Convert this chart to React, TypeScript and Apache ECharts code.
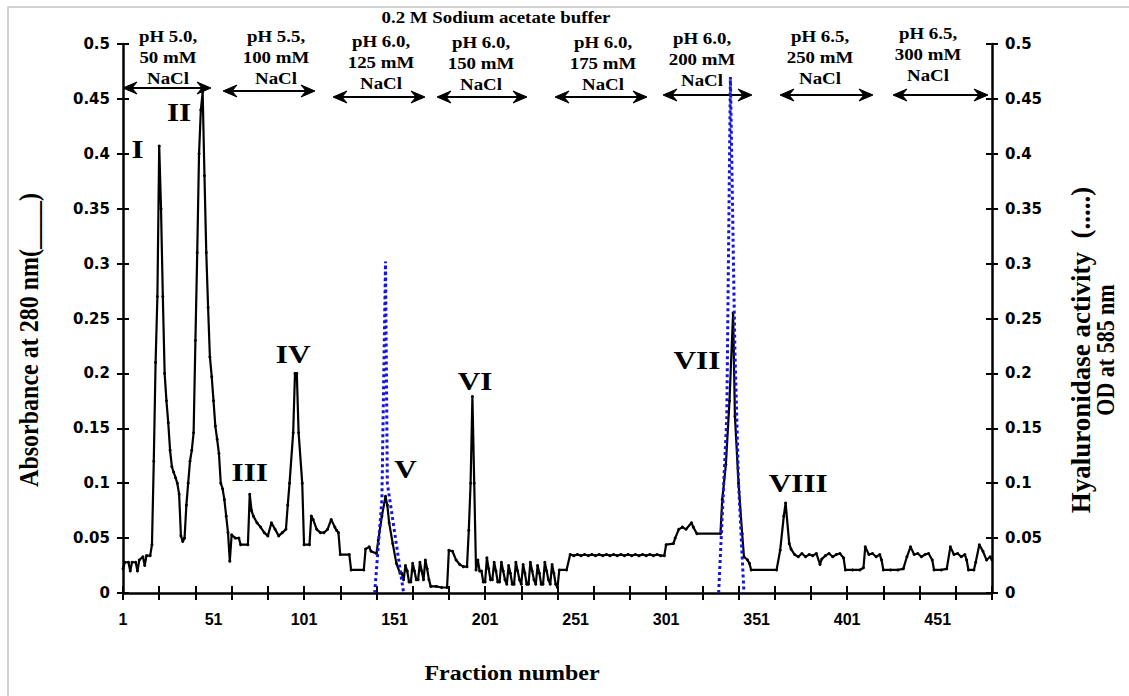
import React, { useEffect, useRef } from "react";
import * as echarts from "echarts";

// ---------- DATA ----------
// Absorbance at 280 nm: [fraction number, absorbance]
const absorbance: [number, number][] = [
  [1, 0.022], [2, 0.028], [4, 0.028], [5, 0.02], [6, 0.028], [8, 0.028], [9, 0.02], [10, 0.03], [12, 0.033], [13, 0.025], [14, 0.034], [16, 0.034], [17, 0.044],
  [18, 0.12], [19, 0.21], [20, 0.27], [21, 0.407], [22, 0.35], [23, 0.27], [24, 0.2], [25, 0.175], [26, 0.155], [27, 0.13], [28, 0.115], [29, 0.11], [30, 0.105],
  [31, 0.1], [32, 0.09], [33, 0.052], [34, 0.047], [35, 0.05], [36, 0.08], [37, 0.1], [38, 0.12], [39, 0.13], [40, 0.146], [41, 0.23], [42, 0.31], [43, 0.4],
  [44, 0.44], [45, 0.456], [46, 0.38], [47, 0.31], [48, 0.26], [49, 0.215], [50, 0.197], [51, 0.175], [52, 0.152], [53, 0.14], [54, 0.127], [55, 0.1], [56, 0.095],
  [57, 0.085], [58, 0.07], [59, 0.055], [60, 0.029], [61, 0.053], [63, 0.05], [65, 0.05], [66, 0.044], [70, 0.044],
  [71, 0.09], [72, 0.075], [73, 0.07], [75, 0.064], [77, 0.06], [79, 0.055], [81, 0.052], [83, 0.064], [85, 0.058], [87, 0.052], [89, 0.055], [91, 0.058],
  [92, 0.08], [93, 0.1], [95, 0.146], [96, 0.2], [97, 0.2], [98, 0.146], [100, 0.1], [101, 0.044], [104, 0.044], [105, 0.07], [106, 0.067], [108, 0.058],
  [110, 0.055], [112, 0.055], [114, 0.058], [116, 0.067], [118, 0.06], [119, 0.057], [120, 0.055], [121, 0.035], [126, 0.035], [127, 0.021], [134, 0.021],
  [135, 0.04], [137, 0.042], [138, 0.038], [141, 0.036], [142, 0.048], [144, 0.07], [146, 0.088], [147, 0.08], [148, 0.064], [150, 0.045], [152, 0.027], [154, 0.018],
  [155, 0.018], [156, 0.012], [157, 0.025], [158, 0.02], [159, 0.01], [160, 0.01], [161, 0.027], [162, 0.02], [163, 0.012], [164, 0.012], [165, 0.028],
  [166, 0.02], [167, 0.012], [168, 0.03], [169, 0.022], [170, 0.012], [171, 0.006], [174, 0.006], [177, 0.005], [180, 0.005], [181, 0.039], [183, 0.038],
  [185, 0.03], [187, 0.026], [189, 0.024], [191, 0.024], [192, 0.057], [193, 0.1], [194, 0.179], [195, 0.1], [196, 0.021], [197, 0.03], [198, 0.02],
  [199, 0.02], [200, 0.01], [201, 0.01], [202, 0.032], [203, 0.022], [204, 0.012], [205, 0.012], [206, 0.028], [207, 0.02], [208, 0.01], [209, 0.01],
  [210, 0.028], [211, 0.02], [212, 0.012], [213, 0.008], [214, 0.025], [215, 0.018], [216, 0.008], [217, 0.008], [218, 0.028], [219, 0.02], [220, 0.012],
  [221, 0.008], [222, 0.026], [223, 0.018], [224, 0.008], [225, 0.008], [226, 0.028], [227, 0.02], [228, 0.012], [229, 0.008], [230, 0.025], [231, 0.018],
  [232, 0.008], [233, 0.008], [234, 0.028], [235, 0.02], [236, 0.012], [237, 0.008], [238, 0.026], [239, 0.018], [240, 0.008], [241, 0.005], [242, 0.021],
  [246, 0.021], [248, 0.035], [250, 0.034], [252, 0.035], [254, 0.034], [256, 0.035], [258, 0.034], [260, 0.035], [262, 0.034], [264, 0.035], [266, 0.034],
  [268, 0.035], [270, 0.034], [272, 0.035], [274, 0.034], [276, 0.035], [278, 0.034], [280, 0.035], [282, 0.034], [284, 0.035], [286, 0.034], [288, 0.035],
  [290, 0.034], [292, 0.035], [294, 0.034], [296, 0.035], [298, 0.034], [300, 0.034], [301, 0.044], [305, 0.045], [306, 0.05], [308, 0.058], [310, 0.06],
  [312, 0.058], [315, 0.064], [316, 0.06], [318, 0.054], [331, 0.054], [332, 0.085], [334, 0.117], [336, 0.175], [338, 0.255], [339, 0.161], [341, 0.1],
  [343, 0.054], [344, 0.033], [346, 0.03], [347, 0.027], [348, 0.021], [362, 0.021], [364, 0.039], [366, 0.07], [367, 0.082], [369, 0.045], [370, 0.04],
  [372, 0.035], [374, 0.033], [376, 0.036], [378, 0.033], [380, 0.035], [382, 0.034], [384, 0.036], [386, 0.026], [387, 0.031], [389, 0.034], [391, 0.036],
  [393, 0.033], [395, 0.035], [397, 0.036], [399, 0.032], [400, 0.021], [404, 0.021], [408, 0.021], [410, 0.023], [411, 0.042], [413, 0.035], [415, 0.036],
  [417, 0.033], [419, 0.035], [420, 0.03], [421, 0.021], [425, 0.021], [429, 0.021], [432, 0.022], [434, 0.033], [436, 0.042], [438, 0.035], [440, 0.036],
  [442, 0.033], [444, 0.035], [446, 0.036], [448, 0.03], [449, 0.021], [453, 0.021], [456, 0.022], [458, 0.042], [460, 0.035], [462, 0.036], [464, 0.033],
  [466, 0.035], [467, 0.03], [468, 0.021], [471, 0.021], [472, 0.028], [474, 0.044], [476, 0.038], [478, 0.03], [480, 0.033], [481, 0.03],
];

// Hyaluronidase activity (OD at 585 nm): [fraction number, OD]
const hyaluronidasePeakA: [number, number][] = [
  [140, 0], [144, 0.085], [146, 0.302], [147, 0.1], [156, 0],
];
const hyaluronidasePeakB: [number, number][] = [
  [330, 0], [332, 0.07], [334.5, 0.16], [336.5, 0.47], [339, 0.22], [341, 0.1], [344, 0],
];

// Peak labels: [label, fraction, absorbance position]
const peakLabels: [string, number, number][] = [
  ["I", 9, 0.404], ["II", 32, 0.438], ["III", 71, 0.11], ["IV", 95, 0.218],
  ["V", 157, 0.113], ["VI", 195.5, 0.193], ["VII", 318, 0.212], ["VIII", 374, 0.1],
];

// Axis ticks (fraction numbers)
const xTickFractions = [1, 21, 41, 61, 81, 101, 121, 141, 161, 181, 201, 221, 241, 261, 281, 301, 321, 341, 361, 381, 401, 421, 441, 461, 481];
const xLabelFractions = [1, 51, 101, 151, 201, 251, 301, 351, 401, 451];

// Elution steps (text lines)
const bufferTitle = "0.2 M Sodium acetate buffer";
const stepTexts: string[][] = [
  ["pH 5.0,", "50 mM", "NaCl"],
  ["pH 5.5,", "100 mM", "NaCl"],
  ["pH 6.0,", "125 mM", "NaCl"],
  ["pH 6.0,", "150 mM", "NaCl"],
  ["pH 6.0,", "175 mM", "NaCl"],
  ["pH 6.0,", "200 mM", "NaCl"],
  ["pH 6.5,", "250 mM", "NaCl"],
  ["pH 6.5,", "300 mM", "NaCl"],
];

const xAxisTitle = "Fraction number";
const leftAxisTitle = "Absorbance at 280 nm(____)";
const rightAxisTitle = ["Hyaluronidase activity  (.....)", "OD at 585 nm"];

// ---------- LAYOUT ----------
const stepLayout = [
  { x: 168, y: 37, ax1: 123, ax2: 211, ay: 88 },
  { x: 276, y: 37, ax1: 223, ax2: 315, ay: 91 },
  { x: 381, y: 42, ax1: 333, ax2: 425, ay: 97 },
  { x: 481, y: 43, ax1: 437, ax2: 527, ay: 97 },
  { x: 603, y: 43, ax1: 555, ax2: 647, ay: 97 },
  { x: 702, y: 39, ax1: 663, ax2: 752, ay: 95 },
  { x: 820, y: 37, ax1: 780, ax2: 873, ay: 95 },
  { x: 928, y: 34, ax1: 893, ax2: 988, ay: 95 },
];

const SERIF = '"Liberation Serif", "Times New Roman", serif';
const SANS_W = '"DejaVu Sans", sans-serif';
const SANS_N = '"Liberation Sans", Arial, sans-serif';

function arrowElements(x1: number, x2: number, y: number) {
  const st = { fill: "#000", stroke: "#000", lineWidth: 1 };
  return [
    { type: "line", shape: { x1: x1 + 4, y1: y, x2: x2 - 4, y2: y }, style: { stroke: "#000", lineWidth: 2 } },
    { type: "polygon", shape: { points: [[x1, y], [x1 + 14, y - 6], [x1 + 9, y], [x1 + 14, y + 6]] }, style: st },
    { type: "polygon", shape: { points: [[x2, y], [x2 - 14, y - 6], [x2 - 9, y], [x2 - 14, y + 6]] }, style: st },
  ];
}

function txt(text: string, x: number, y: number, size: number, extra: any = {}) {
  return {
    type: "text",
    x,
    y,
    scaleX: 1.18,
    z: 100,
    ...extra,
    style: {
      text,
      fill: "#000",
      font: `bold ${size}px ${SERIF}`,
      textAlign: "center",
      textVerticalAlign: "middle",
      align: "center",
      verticalAlign: "middle",
    },
  };
}

const yFmt = (v: number) => (v === 0 ? "0" : String(Math.round(v * 100) / 100));

export default function App() {
  const ref = useRef<HTMLDivElement>(null);

  useEffect(() => {
    if (!ref.current) return;
    const chart = echarts.init(ref.current, null, { renderer: "svg" });

    const axisLineStyle = { color: "#000", width: 2.5 };
    const tickStyle = { color: "#000", width: 2 };
    const xTicks = xTickFractions.map((f) => f - 1);
    const xLabels = xLabelFractions.map((f) => f - 1);

    const graphics: any[] = [
      {
        type: "rect",
        shape: { x: 8, y: 7, width: 1200, height: 800 },
        style: { fill: "none", stroke: "#c4c4c4", lineWidth: 1.5 },
        z: 0,
      },
      txt(bufferTitle, 496, 18, 16),
    ];
    stepTexts.forEach((lines, i) => {
      const L = stepLayout[i];
      lines.forEach((t, j) => graphics.push(txt(t, L.x, L.y + j * 21, 16)));
      graphics.push(...arrowElements(L.ax1, L.ax2, L.ay));
    });
    graphics.push(txt(xAxisTitle, 512, 673, 20, { scaleX: 1.2 }));
    graphics.push(txt(leftAxisTitle, 29, 340, 24, { rotation: Math.PI / 2, scaleX: 1, scaleY: 1.1 }));
    graphics.push(txt(rightAxisTitle[0], 1081, 350, 27, { rotation: Math.PI / 2, scaleX: 1, scaleY: 1.0 }));
    graphics.push(txt(rightAxisTitle[1], 1106, 350, 22, { rotation: Math.PI / 2, scaleX: 1, scaleY: 1.1 }));

    const option: any = {
      animation: false,
      backgroundColor: "#fff",
      grid: { left: 123, right: 137, top: 44, bottom: 103, containLabel: false },
      xAxis: [
        {
          type: "value", min: 0, max: 480, position: "bottom",
          axisLine: { show: true, onZero: false, lineStyle: axisLineStyle },
          axisTick: { show: true, inside: false, length: 7, customValues: xTicks, lineStyle: tickStyle },
          axisLabel: {
            show: true, margin: 18, customValues: xLabels,
            formatter: (v: number) => String(Math.round(v) + 1),
            fontFamily: SANS_N, fontWeight: "bold", fontSize: 16, color: "#000",
          },
          splitLine: { show: false },
        },
        {
          type: "value", min: 0, max: 480, position: "top", offset: -549,
          axisLine: { show: false, onZero: false },
          axisTick: { show: true, inside: false, length: 7, customValues: xTicks, lineStyle: tickStyle },
          axisLabel: { show: false }, splitLine: { show: false },
        },
      ],
      yAxis: [
        {
          type: "value", min: 0, max: 0.5, interval: 0.05, position: "left",
          axisLine: { show: true, onZero: false, lineStyle: axisLineStyle },
          axisTick: { show: true, inside: false, length: 6, lineStyle: tickStyle },
          axisLabel: { show: true, margin: 13, formatter: yFmt, fontFamily: SANS_W, fontWeight: "bold", fontSize: 15, color: "#000" },
          splitLine: { show: false },
        },
        {
          type: "value", min: 0, max: 0.5, interval: 0.05, position: "left",
          axisLine: { show: false, onZero: false },
          axisTick: { show: true, inside: true, length: 6, lineStyle: tickStyle },
          axisLabel: { show: false }, splitLine: { show: false },
        },
        {
          type: "value", min: 0, max: 0.5, interval: 0.05, position: "right",
          axisLine: { show: true, onZero: false, lineStyle: axisLineStyle },
          axisTick: { show: true, inside: false, length: 6, lineStyle: tickStyle },
          axisLabel: { show: true, margin: 13, formatter: yFmt, fontFamily: SANS_W, fontWeight: "bold", fontSize: 15, color: "#000" },
          splitLine: { show: false },
        },
        {
          type: "value", min: 0, max: 0.5, interval: 0.05, position: "right",
          axisLine: { show: false, onZero: false },
          axisTick: { show: true, inside: true, length: 6, lineStyle: tickStyle },
          axisLabel: { show: false }, splitLine: { show: false },
        },
      ],
      series: [
        {
          name: "Absorbance at 280 nm",
          type: "line",
          xAxisIndex: 0,
          yAxisIndex: 0,
          data: absorbance.map(([f, v]) => [f - 1, v]),
          symbol: "circle",
          symbolSize: 3,
          showSymbol: true,
          itemStyle: { color: "#000" },
          lineStyle: { color: "#000", width: 2.2 },
          z: 3,
        },
        ...[hyaluronidasePeakA, hyaluronidasePeakB].map((d) => ({
          name: "Hyaluronidase activity",
          type: "line",
          xAxisIndex: 0,
          yAxisIndex: 2,
          data: d.map(([f, v]) => [f - 1, v]),
          showSymbol: false,
          symbol: "none",
          lineStyle: { color: "#1414dc", width: 3, type: [3, 3] },
          z: 4,
        })),
      ],
      graphic: graphics,
    };
    chart.setOption(option);

    // Peak labels positioned through the chart's own scales
    const peakGraphics = peakLabels.map(([t, f, v]) => {
      const p = chart.convertToPixel({ xAxisIndex: 0, yAxisIndex: 0 }, [f - 1, v]) as number[];
      return txt(t, p[0], p[1], 26, { scaleX: 1.2 });
    });
    chart.setOption({ graphic: [...graphics, ...peakGraphics] });

    return () => chart.dispose();
  }, []);

  return (
    <div
      ref={ref}
      style={{ position: "absolute", left: 0, top: 0, width: 1129, height: 696, background: "#fff" }}
    />
  );
}
